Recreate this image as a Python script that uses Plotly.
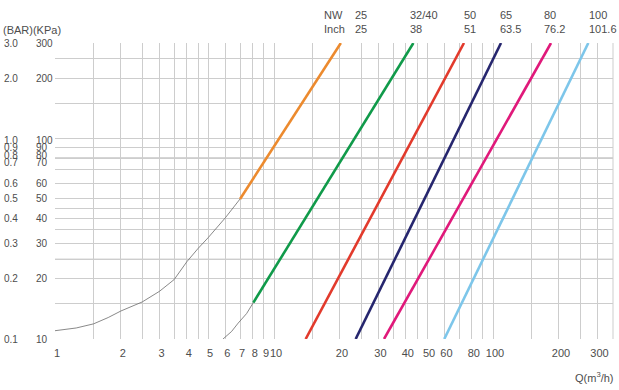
import math
import plotly.graph_objects as go

# ---------------- data ----------------
q_grid = [1, 1.5, 2, 2.5, 3, 3.5, 4, 4.5, 5, 6, 7, 8, 9, 10, 15, 20, 25, 30, 35,
          40, 45, 50, 60, 70, 80, 90, 100, 150, 200, 250, 300]
q_labels = ["1", "", "2", "", "3", "", "4", "", "5", "6", "7", "8", "9", "10", "",
            "20", "", "30", "", "40", "", "50", "60", "", "80", "", "100", "", "200", "", "300"]

h_grid = [10, 15, 20, 25, 30, 35, 40, 45, 50, 60, 70, 80, 90, 100, 150, 200, 250, 300]
h_dark = [25, 80]
h_label_vals = [300, 200, 100, 90, 80, 70, 60, 50, 40, 30, 20, 10]
bar_labels = ["3.0", "2.0", "1.0", "0.9", "0.8", "0.7", "0.6", "0.5", "0.4", "0.3", "0.2", "0.1"]
kpa_labels = ["300", "200", "100", "90", "80", "70", "60", "50", "40", "30", "20", "10"]
label_yshift = [0, 0, -2, 0, 3, 7, 0, 0, 0, 0, 0, 0]

nw_labels = ["25", "32/40", "50", "65", "80", "100"]
inch_labels = ["25", "38", "51", "63.5", "76.2", "101.6"]

series_names = ["NW25", "NW32/40", "NW50", "NW65", "NW80", "NW100"]
series_q = [[7, 20.2], [8.05, 43.3], [13.95, 73.7], [23.6, 108.8], [31.8, 184], [59.9, 272.4]]
series_h = [[50, 300], [15.2, 300], [10, 300], [10, 300], [10, 300], [10, 300]]
series_colors = ["#EC8A2E", "#109A4A", "#E23A2C", "#26266E", "#E0197A", "#7DC6EA"]

curve1_q = [1, 1.25, 1.5, 1.75, 2, 2.5, 3, 3.5, 4, 4.5, 5, 6, 7]
curve1_h = [11.0, 11.35, 11.9, 12.8, 13.8, 15.3, 17.3, 19.8, 24.3, 28.3, 32.0, 40.3, 50]
curve2_q = [5.85, 6.4, 6.86, 7.5, 8.05]
curve2_h = [10, 10.9, 12, 13.4, 15.2]

# ---------------- layout geometry ----------------
W, H = 619, 390
ML, MR, MT, MB = 55, 6, 43, 51
PW, PH = W - ML - MR, H - MT - MB


def px(xp):
    return (xp - ML) / PW


def py(yp):
    return (H - MB - yp) / PH


TXT = "#4d4d4d"
FONT = "Liberation Sans"

fig = go.Figure()

for q, h in [(curve1_q, curve1_h), (curve2_q, curve2_h)]:
    fig.add_trace(go.Scatter(x=q, y=h, mode="lines", line=dict(color="#6b6b6b", width=0.8),
                             hoverinfo="skip", showlegend=False))

for name, q, h, c in zip(series_names, series_q, series_h, series_colors):
    fig.add_trace(go.Scatter(x=q, y=h, mode="lines", name=name,
                             line=dict(color=c, width=2.6), showlegend=False))

ann = []
for v, b, k, s in zip(h_label_vals, bar_labels, kpa_labels, label_yshift):
    ann.append(dict(x=px(2), y=math.log10(v), xref="paper", yref="y", text=b, showarrow=False,
                    xanchor="left", yanchor="middle", yshift=s, font=dict(size=10, color=TXT, family=FONT)))
    ann.append(dict(x=px(34), y=math.log10(v), xref="paper", yref="y", text=k, showarrow=False,
                    xanchor="left", yanchor="middle", yshift=s, font=dict(size=10, color=TXT, family=FONT)))

ann.append(dict(x=px(1), y=py(30), xref="paper", yref="paper", text="(BAR)(KPa)", showarrow=False,
                xanchor="left", yanchor="middle", font=dict(size=11, color=TXT, family=FONT)))
ann.append(dict(x=px(616), y=py(377), xref="paper", yref="paper", text="Q(m<sup>3</sup>/h)", showarrow=False,
                xanchor="right", yanchor="middle", font=dict(size=11, color=TXT, family=FONT)))

ann.append(dict(x=px(322), y=py(15), xref="paper", yref="paper", text="NW", showarrow=False,
                xanchor="left", yanchor="middle", font=dict(size=11, color=TXT, family=FONT)))
ann.append(dict(x=px(322), y=py(29), xref="paper", yref="paper", text="Inch", showarrow=False,
                xanchor="left", yanchor="middle", font=dict(size=11, color=TXT, family=FONT)))
header_x = [353, 408, 462, 497.5, 542, 587]
for hx, a, b in zip(header_x, nw_labels, inch_labels):
    ann.append(dict(x=px(hx), y=py(15), xref="paper", yref="paper", text=a, showarrow=False,
                    xanchor="left", yanchor="middle", font=dict(size=11, color=TXT, family=FONT)))
    ann.append(dict(x=px(hx), y=py(29), xref="paper", yref="paper", text=b, showarrow=False,
                    xanchor="left", yanchor="middle", font=dict(size=11, color=TXT, family=FONT)))

fig.update_layout(
    width=W, height=H,
    margin=dict(l=ML, r=MR, t=MT, b=MB),
    paper_bgcolor="white", plot_bgcolor="white",
    annotations=ann,
    xaxis=dict(type="log", range=[0, PW / 219.0], tickmode="array", tickvals=q_grid, ticktext=q_labels,
               showgrid=True, gridcolor="#cdcdcd", gridwidth=1, zeroline=False, showline=False,
               ticks="", tickangle=0, ticklabelstandoff=6, ticklabelshift=2,
               tickfont=dict(size=11, color=TXT, family=FONT), fixedrange=True),
    yaxis=dict(type="log", range=[1, math.log10(300)], tickmode="array", tickvals=h_grid,
               showticklabels=False, showgrid=True, gridcolor="#cdcdcd", gridwidth=1,
               zeroline=False, showline=False, ticks="", fixedrange=True),
)
fig.add_shape(type="line", xref="paper", yref="paper", x0=1, x1=1, y0=0, y1=1,
              line=dict(color="#cdcdcd", width=1))
for hv in h_dark:
    fig.add_shape(type="line", xref="paper", yref="y", x0=0, x1=1, y0=hv, y1=hv,
                  line=dict(color="#a8a8a8", width=1), layer="below")

fig.write_html("out.html", config={"displayModeBar": False},
               post_script="document.body.style.margin='0px';document.body.style.overflow='hidden';")
